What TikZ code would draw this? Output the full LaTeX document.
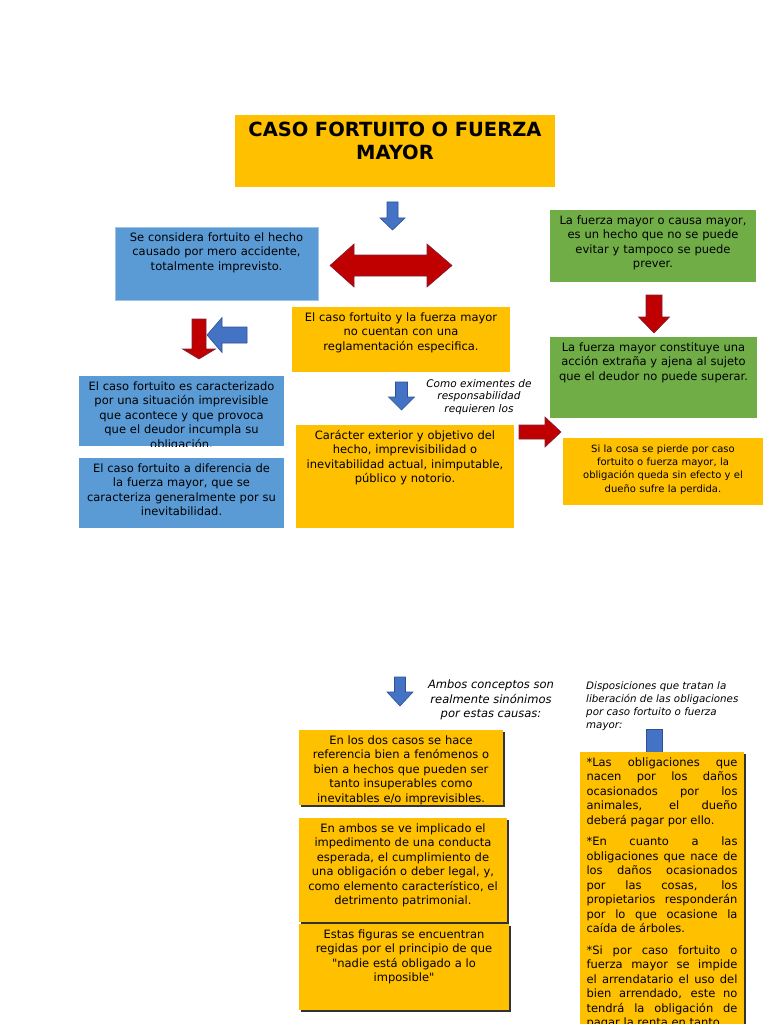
\documentclass[tikz,border=0pt]{standalone}
\usepackage{fontspec}
\setmainfont{DejaVu Sans}
\newfontfamily\recto{DejaVu Sans}
\usetikzlibrary{shadows}
\definecolor{amarillo}{HTML}{FFC000}
\definecolor{azul}{HTML}{5B9BD5}
\definecolor{verde}{HTML}{70AD47}
\definecolor{flechaazul}{HTML}{4472C4}
\definecolor{bordeazul}{HTML}{2F528F}
\definecolor{rojo}{HTML}{C00000}
\definecolor{bordero}{HTML}{7A2038}
% block arrows: style, x centre, y top, y head, y tip, half shaft, half head
\newcommand\flechav[7]{\draw[#1] (#2-#6,#3) -- (#2+#6,#3) -- (#2+#6,#4) -- (#2+#7,#4)
  -- (#2,#5) -- (#2-#7,#4) -- (#2-#6,#4) -- cycle;}
% style, x tail, x head, x tip, y centre, half shaft, half head
\newcommand\flechah[7]{\draw[#1] (#2,#5-#6) -- (#3,#5-#6) -- (#3,#5-#7) -- (#4,#5)
  -- (#3,#5+#7) -- (#3,#5+#6) -- (#2,#5+#6) -- cycle;}
\begin{document}
\begin{tikzpicture}[x=1pt,y=-1pt,
  caja/.style={anchor=north,inner xsep=0pt,inner ysep=4pt,text height=10pt,align=center,
    font=\fontsize{11.5}{14.5}\selectfont},
  amarilla/.style={caja,fill=amarillo},
  azulada/.style={caja,fill=azul},
  verdosa/.style={caja,fill=verde},
  sombra/.style={drop shadow={shadow xshift=1.5pt,shadow yshift=-1.5pt,fill=black!80,opacity=1}},
  nota/.style={align=center,inner sep=0pt,anchor=north},
  azulf/.style={fill=flechaazul,draw=bordeazul,line width=0.6pt},
  rojaf/.style={fill=rojo,draw=bordero,line width=0.6pt}]
  \useasboundingbox (0,0) rectangle (768,1024);
  \clip (0,0) rectangle (768,1024);
  % Title
  \node[amarilla,minimum width=320,text width=310,font=\bfseries\fontsize{19.5}{23}\selectfont,
    text height=17pt,text depth=47pt] (titulo) at (395,115) {CASO FORTUITO O FUERZA\\MAYOR};
  % Left column
  \node[azulada,draw=azul!60!white,minimum width=203,text width=199,text depth=55pt] (fortuito)
    at (216.5,227) {Se considera fortuito el hecho\\causado por mero accidente,\\totalmente imprevisto.};
  \begin{scope}
    \clip (79,376) rectangle (284,446);
    \node[azulada,minimum width=205,text width=203,text depth=52pt] (imprevisible) at (181.5,376)
      {El caso fortuito es caracterizado\\por una situación imprevisible\\que acontece y que provoca\\que el deudor incumpla su\\obligación.};
  \end{scope}
  \node[azulada,minimum width=205,text width=203,text depth=52pt] (diferencia) at (181.5,458)
    {El caso fortuito a diferencia de\\la fuerza mayor, que se\\caracteriza generalmente por su\\inevitabilidad.};
  % Middle column
  \node[amarilla,minimum width=218,text width=214,text depth=47pt] (reglamento) at (401,307)
    {El caso fortuito y la fuerza mayor\\no cuentan con una\\reglamentación especifica.};
  \node[nota,font=\itshape\fontsize{10.5}{12.5}\selectfont] (eximentes) at (479,379)
    {Como eximentes de\\responsabilidad\\requieren los};
  \node[amarilla,minimum width=218,text width=216,text depth=85pt] (requisitos) at (405,425)
    {Carácter exterior y objetivo del\\hecho, imprevisibilidad o\\inevitabilidad actual, inimputable,\\público y notorio.};
  % Right column
  \node[verdosa,minimum width=206,text width=204,text depth=54pt] (fuerza) at (653,210)
    {La fuerza mayor o causa mayor,\\es un hecho que no se puede\\evitar y tampoco se puede\\prever.};
  \node[verdosa,minimum width=207,text width=205,text depth=63pt] (ajena) at (653.5,337)
    {La fuerza mayor constituye una\\acción extraña y ajena al sujeto\\que el deudor no puede superar.};
  \node[amarilla,minimum width=200,text width=196,text depth=49pt,
    font=\fontsize{10}{13.3}\selectfont] (perdida) at (663,438)
    {Si la cosa se pierde por caso\\fortuito o fuerza mayor, la\\obligación queda sin efecto y el\\dueño sufre la perdida.};
  % Lower part
  \node[nota,font=\itshape\fontsize{11.5}{14.5}\selectfont] (sinonimos) at (491,680)
    {Ambos conceptos son\\realmente sinónimos\\por estas causas:};
  \node[amarilla,sombra,minimum width=204,text width=202,text depth=57pt] (casos) at (401,730)
    {En los dos casos se hace\\referencia bien a fenómenos o\\bien a hechos que pueden ser\\tanto insuperables como\\inevitables e/o imprevisibles.};
  \node[amarilla,sombra,minimum width=208,text width=206,text depth=86pt] (impedimento) at (403,818)
    {En ambos se ve implicado el\\impedimento de una conducta\\esperada, el cumplimiento de\\una obligación o deber legal, y,\\como elemento característico, el\\detrimento patrimonial.};
  \node[amarilla,sombra,minimum width=210,text width=208,text depth=68pt] (principio) at (404,924)
    {Estas figuras se encuentran\\regidas por el principio de que\\{\recto"}nadie está obligado a lo\\imposible{\recto"}};
  \node[nota,align=left,anchor=north west,font=\itshape\fontsize{10.3}{13.3}\selectfont] (disposiciones)
    at (586,681) {Disposiciones que tratan la\\liberación de las obligaciones\\por caso fortuito o fuerza\\mayor:};
  \draw[azulf] (646,729) rectangle (662,753);
  \node[amarilla,sombra,minimum width=164,text width=151,text depth=300pt,align=justify,
    font=\fontsize{11.5}{14.5}\selectfont] (obligaciones)
    at (662,752) {\setlength\parskip{7pt}*Las obligaciones que\linebreak nacen por los daños\linebreak
    ocasionados por los\linebreak animales, el dueño\linebreak deberá pagar por ello.\par
    *En cuanto a las\linebreak obligaciones que nace de\linebreak los daños ocasionados\linebreak
    por las cosas, los\linebreak propietarios responderán\linebreak por lo que ocasione la\linebreak
    caída de árboles.\par
    *Si por caso fortuito o\linebreak fuerza mayor se impide\linebreak el arrendatario el uso del\linebreak
    bien arrendado, este no\linebreak tendrá la obligación de\linebreak pagar la renta en tanto};
  % Blue arrows
  \flechav{azulf}{392.5}{202}{218}{230}{5.5}{12.5}
  \flechav{azulf}{401.5}{382}{397}{410}{6}{13}
  \flechav{azulf}{400}{677}{692}{706}{5.5}{13}
  % Red arrows
  \flechav{rojaf}{199}{319}{349}{359}{7}{16.5}
  \flechah{azulf}{247}{222}{207}{335}{8}{17.5}
  \flechav{rojaf}{654}{295}{317}{333}{8}{15.5}
  \flechah{rojaf}{519}{545}{561}{432}{7}{15}
  \draw[rojaf] (330,265.5) -- (354,244) -- (354,255) -- (427,255) -- (427,244) -- (452,265.5)
    -- (427,287) -- (427,276) -- (354,276) -- (354,287) -- cycle;
\end{tikzpicture}
\end{document}
